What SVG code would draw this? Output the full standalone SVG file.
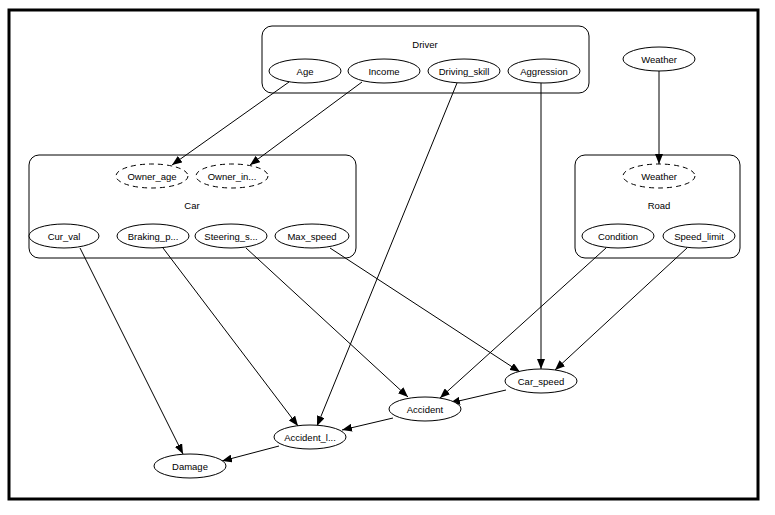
<svg xmlns="http://www.w3.org/2000/svg" width="775" height="515" viewBox="0 0 775 515">
<style>
.n{fill:#fff;stroke:#000;stroke-width:1}
.d{fill:#fff;stroke:#000;stroke-width:1;stroke-dasharray:5,4}
.c{fill:none;stroke:#000;stroke-width:1}
.t{font-family:"Liberation Sans",Arial,sans-serif;font-size:9.5px;text-anchor:middle;fill:#000}
.e{stroke:#000;stroke-width:1;fill:none;marker-end:url(#ah)}
</style>
<defs>
<marker id="ah" viewBox="0 0 10 8" refX="10" refY="4" markerWidth="10" markerHeight="8" markerUnits="userSpaceOnUse" orient="auto">
<path d="M0,0 L10,4 L0,8 z" fill="#000"/>
</marker>
</defs>
<rect x="0" y="0" width="775" height="515" fill="#fff"/>
<rect x="9" y="10" width="749" height="489" fill="#fff" stroke="#000" stroke-width="3"/>

<g id="cluster-driver">
<rect class="c" x="262" y="26" width="327" height="67" rx="10"/>
<text class="t" x="425" y="48">Driver</text>
</g>
<g id="cluster-car">
<rect class="c" x="29" y="155" width="327" height="103" rx="10"/>
<text class="t" x="192" y="209">Car</text>
</g>
<g id="cluster-road">
<rect class="c" x="575" y="155" width="165" height="103" rx="10"/>
<text class="t" x="659" y="209">Road</text>
</g>

<g id="connectors">
<path class="e" d="M289,82 L172,165"/>
<path class="e" d="M362,82 L250,165"/>
<path class="e" d="M457,83 L317,426"/>
<path class="e" d="M541,83 L541,369"/>
<path class="e" d="M659,71 L659,164"/>
<path class="e" d="M80,248 L183,454"/>
<path class="e" d="M163,248 L298,426"/>
<path class="e" d="M246,248 L408,397"/>
<path class="e" d="M330,248 L520,372"/>
<path class="e" d="M606,248 L440,398"/>
<path class="e" d="M687,248 L555,370"/>
<path class="e" d="M506,390 L450,403"/>
<path class="e" d="M393,418 L342,430"/>
<path class="e" d="M279,446 L222,461"/>
</g>

<g id="node-age"><ellipse class="n" cx="305" cy="71" rx="36" ry="12"/><text class="t" x="305" y="74.5">Age</text></g>
<g id="node-income"><ellipse class="n" cx="384" cy="71" rx="36" ry="12"/><text class="t" x="384" y="74.5">Income</text></g>
<g id="node-driving-skill"><ellipse class="n" cx="464" cy="71" rx="36" ry="12"/><text class="t" x="464" y="74.5">Driving_skill</text></g>
<g id="node-aggression"><ellipse class="n" cx="544" cy="71" rx="36" ry="12"/><text class="t" x="544" y="74.5">Aggression</text></g>
<g id="node-weather"><ellipse class="n" cx="659" cy="59" rx="36" ry="12"/><text class="t" x="659" y="62.5">Weather</text></g>

<g id="node-owner-age"><ellipse class="d" cx="152" cy="176" rx="36" ry="12"/><text class="t" x="152" y="179.5">Owner_age</text></g>
<g id="node-owner-income"><ellipse class="d" cx="232" cy="176" rx="36" ry="12"/><text class="t" x="232" y="179.5">Owner_in...</text></g>
<g id="node-cur-val"><ellipse class="n" cx="64" cy="236" rx="35" ry="12"/><text class="t" x="64" y="239.5">Cur_val</text></g>
<g id="node-braking"><ellipse class="n" cx="153" cy="236" rx="36" ry="12"/><text class="t" x="153" y="239.5">Braking_p...</text></g>
<g id="node-steering"><ellipse class="n" cx="231" cy="236" rx="36" ry="12"/><text class="t" x="231" y="239.5">Steering_s...</text></g>
<g id="node-max-speed"><ellipse class="n" cx="312" cy="236" rx="37" ry="12"/><text class="t" x="312" y="239.5">Max_speed</text></g>

<g id="node-road-weather"><ellipse class="d" cx="659" cy="176" rx="36" ry="12"/><text class="t" x="659" y="179.5">Weather</text></g>
<g id="node-condition"><ellipse class="n" cx="618" cy="236" rx="36" ry="12"/><text class="t" x="618" y="239.5">Condition</text></g>
<g id="node-speed-limit"><ellipse class="n" cx="699" cy="236" rx="36" ry="12"/><text class="t" x="699" y="239.5">Speed_limit</text></g>

<g id="node-car-speed"><ellipse class="n" cx="541" cy="381" rx="36" ry="12"/><text class="t" x="541" y="384.5">Car_speed</text></g>
<g id="node-accident"><ellipse class="n" cx="425" cy="409" rx="36" ry="12"/><text class="t" x="425" y="412.5">Accident</text></g>
<g id="node-accident-level"><ellipse class="n" cx="310" cy="437" rx="36" ry="12"/><text class="t" x="310" y="440.5">Accident_l...</text></g>
<g id="node-damage"><ellipse class="n" cx="190" cy="466" rx="36" ry="12"/><text class="t" x="190" y="469.5">Damage</text></g>
</svg>
